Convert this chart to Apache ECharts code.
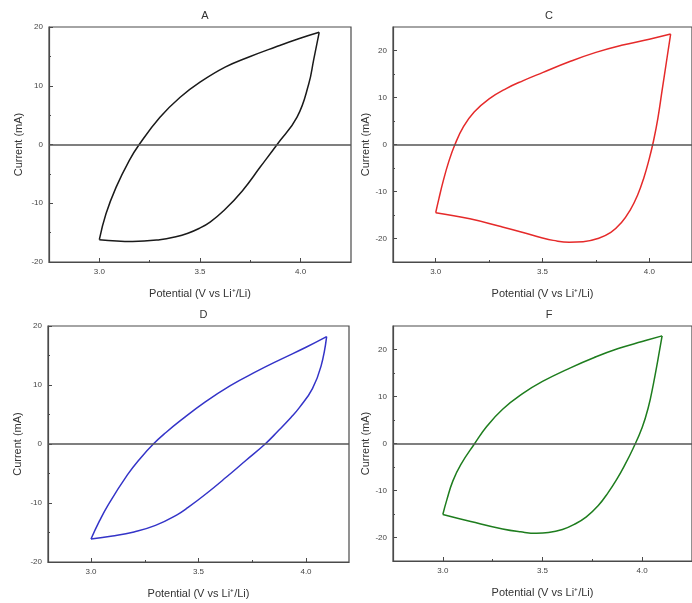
<!DOCTYPE html>
<html>
<head>
<meta charset="utf-8">
<script src="https://cdn.jsdelivr.net/npm/echarts@6/dist/echarts.min.js"></script>
<style>html,body{margin:0;padding:0;background:#fff;}#c{width:692px;height:603px;}</style>
</head>
<body>
<div id="c"></div>
<script>
// Panel titles
const panelTitles = ['A', 'C', 'D', 'F'];
const lineColors = ['#1a1a1a', '#e52a2a', '#3434c8', '#1e7d1e'];
const xLabel = 'Potential (V vs Li\u207A/Li)';
const yLabel = 'Current (mA)';
// Axis ranges
const xRanges = [[2.75, 4.25], [2.8, 4.2], [2.8, 4.2], [2.75, 4.25]];
const yRanges = [[-20, 20], [-25, 25], [-20, 20], [-25, 25]];
const xMajor = [3.0, 3.5, 4.0];
const xMinor = [3.25, 3.75];
const yMajor = [-20, -10, 0, 10, 20];
const yMinor = [-15, -5, 5, 15];

// Panel A: forward (anodic) and reverse (cathodic) sweeps [V, mA]
const aForward = [[3.0,-16.2],[3.033,-11.8],[3.083,-7.3],[3.149,-2.7],[3.198,0],[3.3,4.6],[3.4,8.0],[3.5,10.6],[3.627,13.2],[3.743,14.9],[3.875,16.6],[3.99,18.0],[4.092,19.1]];
const aReverse = [[4.092,19.1],[4.065,14.5],[4.04,10.3],[3.982,4.65],[3.883,0],[3.80,-3.8],[3.71,-7.9],[3.62,-11.2],[3.55,-13.2],[3.495,-14.3],[3.44,-15.1],[3.38,-15.7],[3.30,-16.2],[3.165,-16.5],[3.0,-16.2]];
// Panel C
const cForward = [[3.0,-14.5],[3.015,-11.5],[3.035,-7.8],[3.06,-3.8],[3.09,0],[3.13,3.8],[3.18,6.9],[3.25,9.7],[3.33,11.9],[3.41,13.6],[3.5,15.3],[3.625,17.6],[3.75,19.6],[3.87,21.1],[4.0,22.4],[4.1,23.5]];
const cReverse = [[4.1,23.5],[4.08,17.5],[4.06,11.5],[4.04,5.5],[4.02,0.8],[4.0,-3],[3.975,-7],[3.945,-10.8],[3.91,-14],[3.87,-16.6],[3.82,-18.7],[3.76,-20],[3.69,-20.7],[3.625,-20.8],[3.55,-20.4],[3.5,-19.9],[3.4,-18.6],[3.3,-17.4],[3.16,-15.8],[3.0,-14.5]];
// Panel D
const dForward = [[3.0,-16.1],[3.04,-13],[3.08,-10.3],[3.17,-5.2],[3.23,-2.4],[3.29,0],[3.35,2.0],[3.417,4.0],[3.53,7.1],[3.648,9.9],[3.77,12.3],[3.88,14.3],[4.0,16.4],[4.096,18.2]];
const dReverse = [[4.096,18.2],[4.07,13.2],[4.03,9.4],[3.97,6.2],[3.93,4.5],[3.87,2.2],[3.81,0],[3.72,-2.8],[3.63,-5.6],[3.54,-8.3],[3.45,-10.8],[3.4,-12.0],[3.3,-13.8],[3.2,-14.9],[3.1,-15.6],[3.0,-16.1]];
// Panel F
const fForward = [[3.0,-15.1],[3.02,-12],[3.05,-8],[3.09,-4.5],[3.16,0],[3.22,3.6],[3.3,7.3],[3.4,10.6],[3.5,13.2],[3.64,16.1],[3.76,18.3],[3.88,20.2],[4.0,21.7],[4.1,22.9]];
const fReverse = [[4.1,22.9],[4.078,17.6],[4.056,12.6],[4.031,7.7],[4.0,3.4],[3.955,-1.0],[3.91,-4.8],[3.87,-7.8],[3.83,-10.4],[3.78,-13.2],[3.72,-15.6],[3.66,-17.2],[3.6,-18.3],[3.53,-18.95],[3.47,-19.1],[3.39,-18.8],[3.3,-18.2],[3.14,-16.6],[3.0,-15.1]];

const sweeps = [[aForward, aReverse], [cForward, cReverse], [dForward, dReverse], [fForward, fReverse]];

const grids = [
  {left: 49, top: 27, width: 302, height: 235},
  {left: 393, top: 27, width: 302, height: 235},
  {left: 48, top: 326, width: 301, height: 236},
  {left: 393, top: 326, width: 302, height: 235}
];

const axisCol = '#4a4a4a';
const font = 'Liberation Sans, Arial, sans-serif';
const option = {
  animation: false,
  backgroundColor: '#fff',
  title: [], grid: [], xAxis: [], yAxis: [], series: []
};

grids.forEach((g, i) => {
  option.grid.push(Object.assign({show: true, borderColor: axisCol, borderWidth: 1.2, backgroundColor: 'transparent'}, g));
  option.title.push({
    text: panelTitles[i], left: g.left + g.width / 2, top: g.top - 22, textAlign: 'center',
    textStyle: {fontSize: 11, fontWeight: 'normal', color: '#333', fontFamily: font}
  });
  // main x axis
  option.xAxis.push({
    type: 'value', gridIndex: i, position: 'bottom', min: xRanges[i][0], max: xRanges[i][1],
    name: xLabel, nameLocation: 'middle', nameGap: 26,
    nameTextStyle: {fontSize: 11, color: '#333', fontFamily: font},
    axisLine: {show: true, onZero: false, lineStyle: {color: axisCol, width: 1.2}},
    axisTick: {show: true, inside: true, length: 4, customValues: xMajor, lineStyle: {color: axisCol}},
    axisLabel: {customValues: xMajor, fontSize: 8, color: '#444', fontFamily: font, margin: 6, formatter: v => v.toFixed(1)},
    splitLine: {show: false}
  });
  // minor x ticks
  option.xAxis.push({
    type: 'value', gridIndex: i, position: 'bottom', min: xRanges[i][0], max: xRanges[i][1],
    axisLine: {show: false, onZero: false},
    axisTick: {show: true, inside: true, length: 2, customValues: xMinor, lineStyle: {color: axisCol}},
    axisLabel: {show: false}, splitLine: {show: false}
  });
  option.yAxis.push({
    type: 'value', gridIndex: i, position: 'left', min: yRanges[i][0], max: yRanges[i][1],
    name: yLabel, nameLocation: 'middle', nameGap: i % 2 === 0 ? 25 : 19,
    nameTextStyle: {fontSize: 11, color: '#333', fontFamily: font},
    axisLine: {show: true, onZero: false, lineStyle: {color: axisCol, width: 1.2}},
    axisTick: {show: true, inside: true, length: 4, customValues: yMajor, lineStyle: {color: axisCol}},
    axisLabel: {customValues: yMajor, fontSize: 8, color: '#444', fontFamily: font, margin: 6},
    splitLine: {show: false}
  });
  option.yAxis.push({
    type: 'value', gridIndex: i, position: 'left', min: yRanges[i][0], max: yRanges[i][1],
    axisLine: {show: false, onZero: false},
    axisTick: {show: true, inside: true, length: 2, customValues: yMinor, lineStyle: {color: axisCol}},
    axisLabel: {show: false}, splitLine: {show: false}
  });
  sweeps[i].forEach((branch, k) => {
    const s = {
      type: 'line', xAxisIndex: 2 * i, yAxisIndex: 2 * i, data: branch, smooth: 0.45,
      showSymbol: false, symbol: 'none', silent: true,
      lineStyle: {color: lineColors[i], width: 1.5}
    };
    if (k === 0) {
      s.markLine = {
        silent: true, symbol: ['none', 'none'], label: {show: false},
        lineStyle: {color: '#555', width: 1.6, type: 'solid'},
        data: [{yAxis: 0}]
      };
    }
    option.series.push(s);
  });
});

const chart = echarts.init(document.getElementById('c'), null, {renderer: 'canvas'});
chart.setOption(option);
</script>
</body>
</html>
